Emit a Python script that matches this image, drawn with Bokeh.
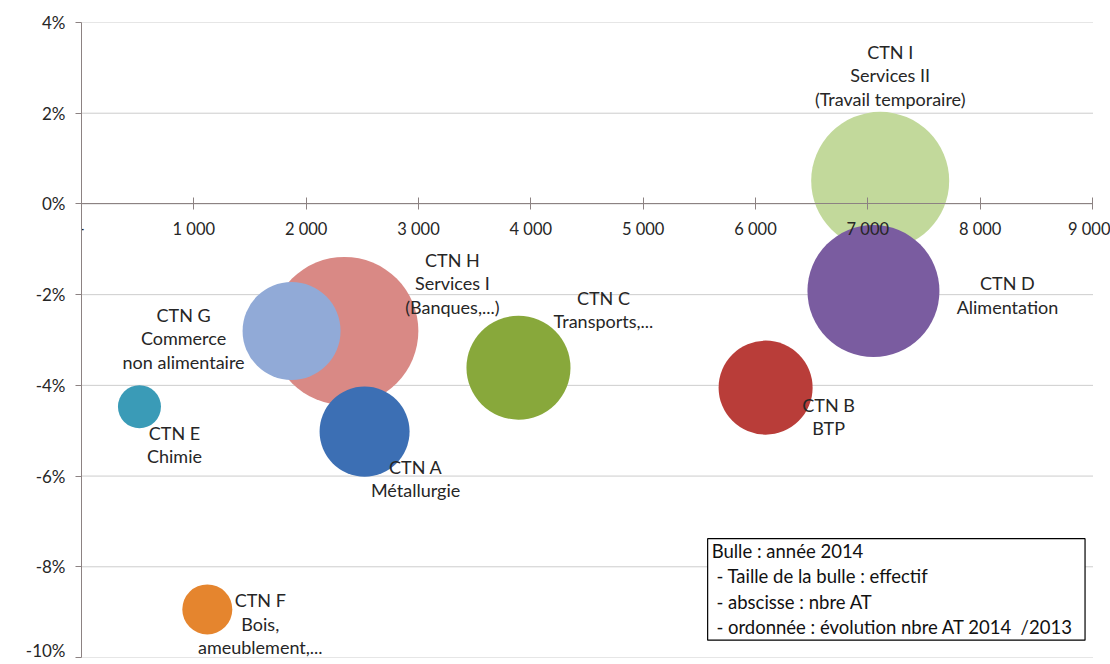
from bokeh.plotting import figure
from bokeh.models import ColumnDataSource, Range1d, FixedTicker, PrintfTickFormatter, Label, LabelSet
from bokeh.core.properties import value
from bokeh.embed import file_html
from bokeh.resources import INLINE
import math

# ---- data ----
codes = ["CTN A", "CTN B", "CTN C", "CTN D", "CTN E", "CTN F", "CTN G", "CTN H", "CTN I"]
sectors = [
    ["Métallurgie"],
    ["BTP"],
    ["Transports,..."],
    ["Alimentation"],
    ["Chimie"],
    ["Bois,", "ameublement,..."],
    ["Commerce", "non alimentaire"],
    ["Services I", "(Banques,...)"],
    ["Services II", "(Travail temporaire)"],
]
nbre_at = [2520, 6090, 3890, 7050, 516, 1120, 1870, 2340, 7110]            # abscisse
evolution = [-5.02, -4.05, -3.61, -1.92, -4.47, -8.94, -2.80, -2.80, 0.51]  # ordonnée (%)
effectif = [810, 884, 1082, 1742, 185, 250, 960, 2190, 1904]               # taille de la bulle
x_ticks = [0, 1000, 2000, 3000, 4000, 5000, 6000, 7000, 8000, 9000]
x_tick_labels = ["-", "1 000", "2 000", "3 000", "4 000", "5 000", "6 000", "7 000", "8 000", "9 000"]
y_ticks = [-10, -8, -6, -4, -2, 0, 2, 4]
legend_lines = ["Bulle : année 2014", "\u00a0- Taille de la bulle : effectif",
                "\u00a0- abscisse : nbre AT", "\u00a0- ordonnée : évolution nbre AT 2014\u00a0 /2013"]

# ---- styles ----
colors = ["#3c6fb4", "#b93d39", "#88a83b", "#7a5ca0", "#3a9bb7", "#e5852e", "#91aad7", "#d98985", "#c2d99b"]
label_dx = [51, 63, 85, 134, 35, 53, -108, 108, 10]
label_dy = [35, 17, -70, -8, 26, -9, -16, -71, -129]   # screen px, downwards
LINE = 23.5
MAX_D = 148
FONT = "Lato"
TXT = "#262626"
AXIS_COLOR = "#8c8282"

order = sorted(range(len(codes)), key=lambda i: -effectif[i])
bubbles = ColumnDataSource(dict(
    x=[nbre_at[i] for i in order],
    y=[evolution[i] for i in order],
    size=[MAX_D * math.sqrt(effectif[i] / max(effectif)) for i in order],
    color=[colors[i] for i in order],
))

lx, ly, lt, ldx, ldy = [], [], [], [], []
for i, code in enumerate(codes):
    for k, line in enumerate([code] + sectors[i]):
        lx.append(nbre_at[i]); ly.append(evolution[i]); lt.append(line)
        ldx.append(label_dx[i]); ldy.append(-(label_dy[i] + k * LINE))
labels = ColumnDataSource(dict(x=lx, y=ly, text=lt, dx=ldx, dy=ldy))

x_end = x_ticks[-1] * 1029 / 1011   # room on the right for the last tick label
p = figure(width=1110, height=660, x_range=Range1d(x_ticks[0], x_end), y_range=Range1d(y_ticks[0], y_ticks[-1]),
           output_backend="svg", toolbar_location=None,
           min_border_left=81, min_border_right=0, min_border_top=22, min_border_bottom=3)
p.outline_line_color = None
p.background_fill_color = "white"

# horizontal dotted grid lines, limited to the axis extent
p.segment(x0=[x_ticks[0]] * len(y_ticks), x1=[x_ticks[-1]] * len(y_ticks), y0=y_ticks, y1=y_ticks,
          line_color="#9a9a9a", line_dash="1 1", line_width=1)

p.scatter("x", "y", size="size", fill_color="color", line_color=None, source=bubbles)
p.add_layout(LabelSet(x="x", y="y", text="text", x_offset="dx", y_offset="dy", source=labels,
                      text_align="center", text_baseline="middle", text_font=value(FONT),
                      text_font_size="18px", text_color=TXT))

# x axis crossing at 0
xa = p.xaxis[0]
xa.fixed_location = 0
xa.bounds = (x_ticks[0], x_ticks[-1])
xa.ticker = FixedTicker(ticks=x_ticks)
xa.major_label_overrides = {t: s for t, s in zip(x_ticks, x_tick_labels)}
xa.major_tick_in = 6
xa.major_tick_out = 6
xa.minor_tick_line_color = None
xa.axis_line_color = AXIS_COLOR
xa.major_tick_line_color = AXIS_COLOR
xa.major_label_standoff = 9
xa.major_label_text_font = FONT
xa.major_label_text_font_size = "16.5px"
xa.major_label_text_color = TXT

ya = p.yaxis[0]
ya.ticker = FixedTicker(ticks=y_ticks)
ya.formatter = PrintfTickFormatter(format="%d%%")
ya.major_tick_in = 0
ya.major_tick_out = 6
ya.minor_tick_line_color = None
ya.axis_line_color = AXIS_COLOR
ya.major_tick_line_color = AXIS_COLOR
ya.major_label_standoff = 10
ya.major_label_text_font = FONT
ya.major_label_text_font_size = "17px"
ya.major_label_text_color = TXT

p.xgrid.visible = False
p.ygrid.visible = False

legend = Label(x=5574, y=-7.38, x_units="data", y_units="data", anchor="top_left",
               text="\n".join(legend_lines), text_font=FONT, text_font_size="18.5px",
               text_color="#111111", text_line_height=1.16,
               border_line_color="black", border_line_width=1.2,
               background_fill_color="white",
               padding=dict(left=4, right=12, top=1, bottom=2))
p.add_layout(legend)

open("out.html", "w").write(file_html(p, INLINE))
